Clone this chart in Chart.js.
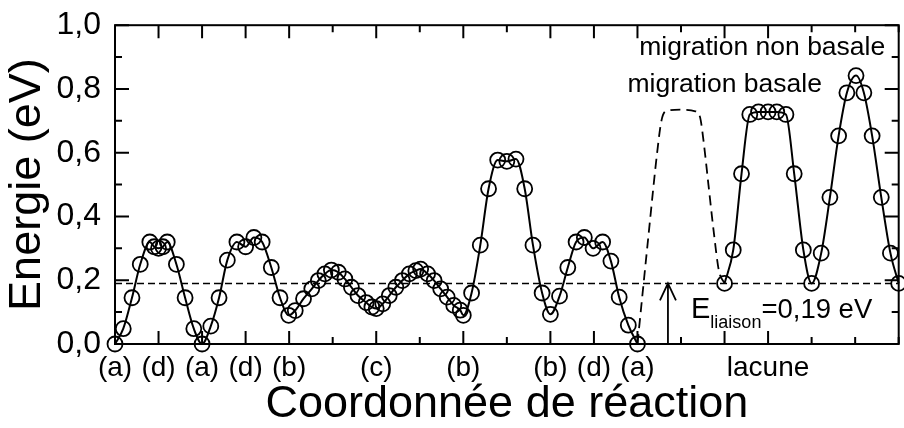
<!DOCTYPE html>
<html>
<head>
<meta charset="utf-8">
<script src="https://cdn.jsdelivr.net/npm/chart.js@4"></script>
<style>
  html, body { margin: 0; padding: 0; overflow: hidden; background: #fff; }
  #wrap { width: 908px; height: 428px; }
</style>
</head>
<body>
<div id="wrap"><canvas id="energyChart" width="908" height="428"></canvas></div>
<script>
// chemin (a)-(d)-(a)-(d)-(b)-(c)-(b)-(b)-(d)-(a)
const chainX = [0, 0.19, 0.39, 0.58, 0.8, 0.9, 1.0, 1.1, 1.2, 1.41, 1.61, 1.81, 2.0,
    2.2, 2.39, 2.58, 2.8, 3.0, 3.19, 3.38, 3.59, 3.79, 3.99,
    4.14, 4.33, 4.52, 4.67, 4.82, 4.97, 5.13, 5.28, 5.43, 5.58, 5.77, 5.9, 6.0,
    6.15, 6.3, 6.45, 6.6, 6.76, 6.91, 7.02, 7.18, 7.33, 7.48, 7.63, 7.78, 7.93, 8.0,
    8.19, 8.39, 8.58, 8.79, 9.0, 9.21, 9.41, 9.6, 9.81, 10.0,
    10.21, 10.4, 10.59, 10.78, 10.98, 11.2, 11.39, 11.58, 11.79, 12.0];
const chainE = [0, 0.048, 0.145, 0.25, 0.32, 0.305, 0.30, 0.305, 0.32, 0.25, 0.145, 0.048, 0,
    0.056, 0.145, 0.263, 0.32, 0.305, 0.334, 0.32, 0.24, 0.145, 0.09,
    0.105, 0.142, 0.173, 0.199, 0.22, 0.232, 0.225, 0.204, 0.178, 0.152, 0.13, 0.116, 0.111,
    0.126, 0.152, 0.178, 0.199, 0.22, 0.23, 0.235, 0.22, 0.199, 0.173, 0.147, 0.121, 0.106, 0.09,
    0.16, 0.31, 0.487, 0.577, 0.573, 0.58, 0.487, 0.31, 0.16, 0.093,
    0.15, 0.24, 0.32, 0.334, 0.30, 0.32, 0.26, 0.147, 0.059, 0];

// lacune (migration non basale)
const vacancyX = [14.0, 14.2, 14.39, 14.58, 14.78, 15.0, 15.2, 15.41, 15.6, 15.81, 16.0,
    16.22, 16.42, 16.62, 16.81, 17.02, 17.2, 17.39, 17.6, 17.81, 18.0];
const vacancyE = [0.19, 0.295, 0.534, 0.72, 0.728, 0.728, 0.728, 0.72, 0.534, 0.295, 0.19,
    0.285, 0.46, 0.653, 0.788, 0.842, 0.788, 0.653, 0.46, 0.285, 0.19];

// migration basale (tirets)
const basalX = [12.0, 12.26, 12.46, 12.55, 12.65, 13.0, 13.33, 13.44, 13.52, 13.63, 13.75, 13.87, 14.0];
const basalE = [0, 0.35, 0.61, 0.70, 0.73, 0.735, 0.73, 0.71, 0.634, 0.5, 0.354, 0.23, 0.19];

const bindingEnergy = 0.19;

const stateTicks = [0, 1, 2, 3, 4, 6, 8, 10, 11, 12, 14, 15];
const stateNames = ['(a)', '(d)', '(a)', '(d)', '(b)', '(c)', '(b)', '(b)', '(d)', '(a)', '', 'lacune'];

const FONT = "'Liberation Sans', Arial, sans-serif";

function pts(xs, ys) {
    return xs.map((x, i) => ({ x: x, y: ys[i] }));
}

const frame = {
    id: 'frame',
    afterDraw(chart) {
        const { ctx, chartArea: a, scales: { x, y } } = chart;
        ctx.save();
        ctx.strokeStyle = '#000';
        ctx.lineWidth = 2;
        ctx.strokeRect(a.left, a.top, a.right - a.left, a.bottom - a.top);
        ctx.beginPath();
        for (let v = 0; v <= 18; v++) {
            const px = x.getPixelForValue(v);
            const len = stateTicks.includes(v) ? 13 : 7;
            ctx.moveTo(px, a.bottom); ctx.lineTo(px, a.bottom - len);
            ctx.moveTo(px, a.top); ctx.lineTo(px, a.top + len);
        }
        for (let k = 0; k <= 10; k++) {
            const py = y.getPixelForValue(k / 10);
            const len = k % 2 === 0 ? 14 : 7;
            ctx.moveTo(a.left, py); ctx.lineTo(a.left + len, py);
            ctx.moveTo(a.right, py); ctx.lineTo(a.right - len, py);
        }
        ctx.stroke();

        // fleche E_liaison
        const ax = x.getPixelForValue(12.7);
        const y0 = y.getPixelForValue(0);
        const y1 = y.getPixelForValue(bindingEnergy);
        ctx.lineWidth = 1.8;
        ctx.beginPath();
        ctx.moveTo(ax, y0); ctx.lineTo(ax, y1);
        ctx.moveTo(ax - 8, y1 + 17); ctx.lineTo(ax, y1); ctx.lineTo(ax + 8, y1 + 17);
        ctx.stroke();

        // textes
        ctx.fillStyle = '#000';
        ctx.textBaseline = 'alphabetic';
        ctx.textAlign = 'left';
        ctx.font = '26.5px ' + FONT;
        ctx.fillText('migration non basale', x.getPixelForValue(12.04), y.getPixelForValue(0.907));
        ctx.fillText('migration basale', x.getPixelForValue(11.77), y.getPixelForValue(0.792));

        let tx = x.getPixelForValue(13.23);
        const by = y.getPixelForValue(0.081);
        ctx.font = '29px ' + FONT;
        ctx.fillText('E', tx, by);
        tx += ctx.measureText('E').width;
        ctx.font = '18px ' + FONT;
        ctx.fillText('liaison', tx, by + 10);
        tx += ctx.measureText('liaison').width;
        ctx.font = '27.5px ' + FONT;
        ctx.fillText('=0,19 eV', tx, by);
        ctx.restore();
    }
};

new Chart(document.getElementById('energyChart'), {
    type: 'line',
    data: {
        datasets: [{
            data: [{ x: 0, y: bindingEnergy }, { x: 18, y: bindingEnergy }],
            borderColor: '#000',
            borderWidth: 1.5,
            borderDash: [7, 4],
            pointRadius: 0
        }, {
            data: pts(basalX, basalE),
            borderColor: '#000',
            borderWidth: 1.8,
            borderDash: [10, 6],
            pointRadius: 0,
            cubicInterpolationMode: 'monotone'
        }, {
            data: pts(chainX, chainE),
            borderColor: '#000',
            borderWidth: 2,
            pointRadius: 7.5,
            pointBorderWidth: 1.8,
            pointBackgroundColor: 'rgba(0,0,0,0)',
            pointBorderColor: '#000',
            cubicInterpolationMode: 'monotone',
            clip: false
        }, {
            data: pts(vacancyX, vacancyE),
            borderColor: '#000',
            borderWidth: 2,
            pointRadius: 7.5,
            pointBorderWidth: 1.8,
            pointBackgroundColor: 'rgba(0,0,0,0)',
            pointBorderColor: '#000',
            cubicInterpolationMode: 'monotone',
            clip: false
        }]
    },
    options: {
        responsive: false,
        animation: false,
        layout: { padding: { top: 22, right: 3, left: 0, bottom: 0 } },
        plugins: { legend: { display: false }, tooltip: { enabled: false } },
        scales: {
            x: {
                type: 'linear',
                min: 0,
                max: 18,
                grid: { display: false },
                border: { display: false },
                afterFit(scale) { scale.height = 84; },
                ticks: {
                    stepSize: 1,
                    autoSkip: false,
                    maxRotation: 0,
                    padding: 1,
                    color: '#000',
                    font: { family: FONT, size: 28, lineHeight: 1.1 },
                    callback: v => {
                        const i = stateTicks.indexOf(v);
                        return i >= 0 ? stateNames[i] : '';
                    }
                },
                title: {
                    display: true,
                    text: 'Coordonnée de réaction',
                    color: '#000',
                    font: { family: FONT, size: 45, lineHeight: 1 },
                    padding: { top: 0, bottom: 1 }
                }
            },
            y: {
                min: 0,
                max: 1,
                grid: { display: false },
                border: { display: false },
                afterFit(scale) { scale.width = 115; },
                ticks: {
                    stepSize: 0.1,
                    padding: 6,
                    color: '#000',
                    font: { family: FONT, size: 32 },
                    callback: v => {
                        const k = Math.round(v * 10);
                        return k % 2 === 0 ? (k / 10).toFixed(1).replace('.', ',') : '';
                    }
                },
                title: {
                    display: true,
                    text: 'Energie (eV)',
                    color: '#000',
                    font: { family: FONT, size: 45, lineHeight: 1 },
                    padding: { top: 5, bottom: 0 }
                }
            }
        }
    },
    plugins: [frame]
});
</script>
</body>
</html>
